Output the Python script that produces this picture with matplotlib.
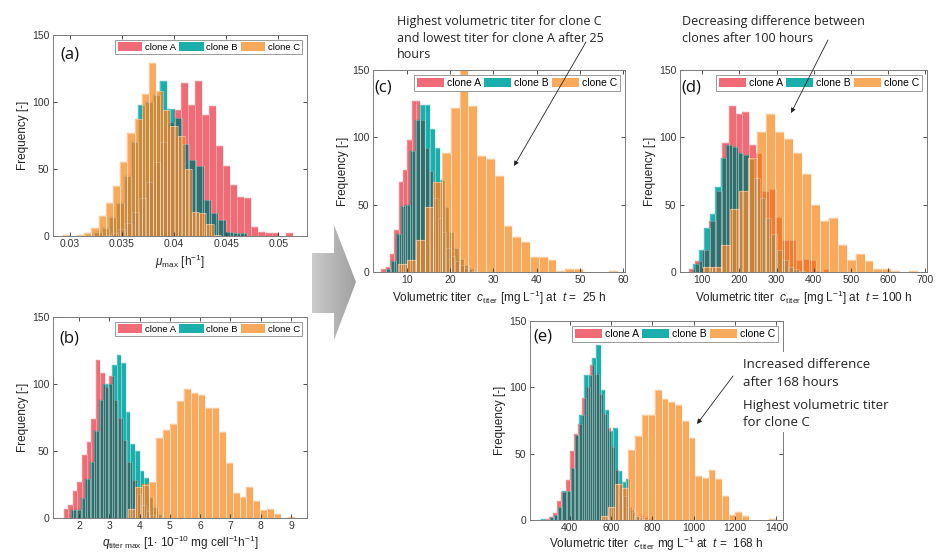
import numpy as np
import matplotlib.pyplot as plt
from matplotlib.patches import Patch, Polygon, Rectangle, FancyArrowPatch

plt.rcParams['font.family'] = 'Liberation Sans'
plt.rcParams['mathtext.fontset'] = 'custom'
plt.rcParams['mathtext.rm'] = 'Liberation Sans'
plt.rcParams['mathtext.it'] = 'Liberation Sans:italic'

clones = ['clone A', 'clone B', 'clone C']

# (a) mu_max: first bin edge, bin width and counts for clone A, B, C
mu_start = [0.0333, 0.03164, 0.0293]
mu_width = [0.00067, 0.0007, 0.00069]
mu_A = [1, 2, 5, 10, 18, 28, 40, 55, 70, 85, 94, 114, 98, 116, 90, 97, 67, 52, 38, 29, 28, 7, 3, 2, 2, 0, 2]
mu_B = [1, 3, 6, 14, 25, 45, 70, 98, 100, 105, 116, 95, 88, 69, 57, 52, 27, 17, 12, 3, 2, 2]
mu_C = [1, 0, 1, 2, 6, 15, 25, 37, 55, 77, 87, 106, 129, 108, 94, 82, 75, 50, 18, 17, 9, 1]

# (b) q_titer max
q_start = [1.5, 1.75, 3.62]
q_width = [0.15, 0.15, 0.23]
q_A = [7, 10, 20, 27, 47, 57, 74, 118, 108, 98, 106, 88, 75, 58, 42, 28, 18, 10, 5, 2]
q_B = [6, 6, 15, 29, 42, 65, 88, 100, 100, 114, 122, 116, 79, 55, 50, 35, 30, 16, 8, 3, 1]
q_C = [7, 23, 25, 27, 60, 66, 70, 87, 96, 93, 92, 82, 82, 64, 41, 19, 16, 23, 13, 6, 7, 3, 0, 1]

# (c) titer at t = 25 h
c25_start = [4.15, 5.19, 8.02]
c25_width = [1.0, 1.13, 2.03]
c25_A = [2, 4, 13, 31, 67, 76, 98, 127, 127, 113, 92, 75, 55, 40, 30, 18, 12, 8, 5, 3, 2, 1]
c25_B = [2, 8, 28, 49, 50, 90, 113, 124, 124, 106, 92, 68, 48, 30, 18, 10, 5, 3, 1]
c25_C = [6, 9, 24, 48, 67, 88, 122, 150, 123, 86, 84, 71, 34, 26, 22, 11, 11, 9, 1, 2, 2, 0, 0, 0, 1]

# (d) titer at t = 100 h
c100_start = [63.7, 75.0, 102.7]
c100_width = [18.0, 15.0, 24.1]
c100_A = [2, 8, 16, 38, 60, 96, 123, 117, 119, 94, 88, 60, 62, 41, 24, 24, 9, 10, 9, 1, 2]
c100_B = [6, 16, 33, 43, 63, 85, 94, 93, 88, 87, 84, 70, 55, 40, 28, 16, 9, 4, 2, 1]
c100_C = [4, 4, 20, 47, 60, 85, 104, 117, 104, 99, 88, 73, 50, 38, 40, 20, 9, 13, 8, 2, 2, 1, 0, 1]

# (e) titer at t = 168 h
c168_start = [280.0, 262.5, 553.7]
c168_width = [20.0, 20.5, 32.4]
c168_A = [1, 2, 5, 14, 21, 30, 52, 65, 72, 92, 100, 117, 110, 95, 80, 69, 55, 38, 28, 18, 10, 6, 3, 4, 2, 1]
c168_B = [1, 0, 2, 4, 10, 22, 22, 39, 64, 79, 109, 109, 122, 132, 98, 83, 67, 69, 37, 29, 31, 8, 3, 2, 1]
c168_C = [3, 10, 27, 24, 53, 63, 79, 79, 98, 91, 89, 87, 75, 62, 33, 32, 38, 31, 18, 4, 6, 3, 0, 0, 0, 1]

mu_ticks = [0.03, 0.035, 0.04, 0.045, 0.05]
mu_ticklabels = ['0.03', '0.035', '0.04', '0.045', '0.05']
q_ticks = [2, 3, 4, 5, 6, 7, 8, 9]
c25_ticks = [10, 20, 30, 40, 50, 60]
c100_ticks = [100, 200, 300, 400, 500, 600, 700]
c168_ticks = [400, 600, 800, 1000, 1200, 1400]
freq_ticks = [0, 50, 100, 150]

W, H = 937, 554
fig = plt.figure(figsize=(W / 100, H / 100), dpi=100)


def box(x0, y0, x1, y1):
    return [x0 / W, 1 - y1 / H, (x1 - x0) / W, (y1 - y0) / H]


def fpt(x, y):
    return (x / W, 1 - y / H)


single = ['#ef6b75', '#1aafad', '#f8a95c']
mixed = {(0,): single[0], (1,): single[1], (2,): single[2],
         (0, 1): '#2f6f6e', (0, 2): '#f37b2d', (1, 2): '#cc893a', (0, 1, 2): '#c5823a'}
edge_alpha = [0.3, 0.35, 0.55]


def overlay_hist(ax, starts, widths, counts):
    hists = []
    for s, w, c in zip(starts, widths, counts):
        c = np.asarray(c, dtype=float)
        hists.append((s + w * np.arange(len(c) + 1), c))
    xs = np.unique(np.concatenate([e for e, _ in hists]))
    pieces = {}
    for x0, x1 in zip(xs[:-1], xs[1:]):
        xm = 0.5 * (x0 + x1)
        hs = []
        for e, c in hists:
            i = np.searchsorted(e, xm) - 1
            hs.append(c[i] if 0 <= i < len(c) else 0.0)
        levels = sorted(set([0.0] + hs))
        for lo, hi in zip(levels[:-1], levels[1:]):
            key = tuple(k for k in range(3) if hs[k] >= hi)
            pieces.setdefault(key, []).append((x0, x1 - x0, lo, hi - lo))
    for key, p in pieces.items():
        p = np.array(p)
        ax.bar(p[:, 0], p[:, 3], width=p[:, 1], bottom=p[:, 2], align='edge',
               color=mixed[key], edgecolor=mixed[key], linewidth=0.2)
    for k, (e, c) in enumerate(hists):
        m = c > 0
        ax.bar(e[:-1][m], c[m], width=np.diff(e)[m], align='edge', facecolor='none',
               edgecolor=(1, 1, 1, edge_alpha[k]), linewidth=0.5)


def setup(ax, xlim, xticks, xticklabels, xlabel, letter, lpos, legfs, xpad=2.5):
    ax.set_xlim(*xlim)
    ax.set_ylim(0, 150)
    ax.set_xticks(xticks)
    ax.set_xticklabels(xticklabels)
    ax.set_yticks(freq_ticks)
    ax.tick_params(direction='in', top=True, right=True, length=3, width=0.6,
                   labelsize=7.5, colors='#333333', pad=2.5)
    for sp in ax.spines.values():
        sp.set_color('#7a7a7a')
        sp.set_linewidth(0.7)
    ax.set_ylabel('Frequency [-]', fontsize=8.5, color='#222222', labelpad=2)
    ax.set_xlabel(xlabel, fontsize=8.5, color='#222222', labelpad=xpad)
    ax.text(lpos[0], lpos[1], letter, transform=ax.transAxes, fontsize=12,
            family='Open Sans', va='center', ha='left', color='#111111')
    handles = [Patch(facecolor=single[i], edgecolor='none', label=clones[i]) for i in range(3)]
    leg = ax.legend(handles=handles, ncol=3, loc='upper right', fontsize=legfs,
                    handlelength=2.6, handleheight=1.0, handletextpad=0.25,
                    columnspacing=0.35, borderpad=0.25, borderaxespad=0.5,
                    fancybox=False, edgecolor='#8a8a8a', framealpha=1)
    leg.get_frame().set_linewidth(0.6)


# (a)
ax = fig.add_axes(box(53, 35, 307, 236))
overlay_hist(ax, mu_start, mu_width, [mu_A, mu_B, mu_C])
setup(ax, (0.02837, 0.05276), mu_ticks, mu_ticklabels,
      r'$\mu_{\rm max}$ [h$^{-1}$]', '(a)', (0.03, 0.905), 6.8)

# (b)
ax = fig.add_axes(box(53, 317, 307, 518))
overlay_hist(ax, q_start, q_width, [q_A, q_B, q_C])
setup(ax, (1.142, 9.528), q_ticks, [str(t) for t in q_ticks],
      r'$q_{\rm titer\ max}$ [1$\cdot$ 10$^{-10}$ mg cell$^{-1}$h$^{-1}$]', '(b)', (0.025, 0.895), 6.8,
      xpad=1.5)

# (c)
ax = fig.add_axes(box(373, 70, 625, 272))
overlay_hist(ax, c25_start, c25_width, [c25_A, c25_B, c25_C])
setup(ax, (2.22, 60.4), c25_ticks, [str(t) for t in c25_ticks],
      r'Volumetric titer  $c_{\rm titer}$ [mg L$^{-1}$] at  $t$ =  25 h', '(c)', (0.005, 0.915), 7.5)

# (d)
ax = fig.add_axes(box(680, 70, 927, 272))
overlay_hist(ax, c100_start, c100_width, [c100_A, c100_B, c100_C])
setup(ax, (40, 704.6), c100_ticks, [str(t) for t in c100_ticks],
      r'Volumetric titer  $c_{\rm titer}$ [mg L$^{-1}$] at  $t$ = 100 h', '(d)', (0.005, 0.915), 7.5)

# (e)
ax = fig.add_axes(box(530, 321, 783, 520))
overlay_hist(ax, c168_start, c168_width, [c168_A, c168_B, c168_C])
setup(ax, (208, 1432), c168_ticks, [str(t) for t in c168_ticks],
      r'Volumetric titer  $c_{\rm titer}$ mg L$^{-1}$ at  $t$ =  168 h', '(e)', (0.015, 0.92), 7.5,
      xpad=1.0)

# big gray arrow between the columns, shaded light to dark
chevron = Polygon([fpt(312, 253), fpt(334, 253), fpt(334, 225), fpt(356, 282),
                   fpt(334, 340), fpt(334, 313), fpt(312, 313)],
                  closed=True, transform=fig.transFigure, facecolor='none', edgecolor='none')
fig.add_artist(chevron)
gax = fig.add_axes(box(310, 223, 358, 342))
gax.axis('off')
grad = np.linspace(0.80, 0.62, 64)[None, :] * np.ones((16, 1))
img = gax.imshow(grad, cmap='gray', vmin=0, vmax=1, aspect='auto',
                 extent=(0, 1, 0, 1))
img.set_clip_path(chevron)

# annotations
tkw = dict(family='Open Sans', color='#222222', ha='left', va='center')
fig.text(*fpt(397, 22), 'Highest volumetric titer for clone C', fontsize=9, **tkw)
fig.text(*fpt(397, 38), 'and lowest titer for clone A after 25', fontsize=9, **tkw)
fig.text(*fpt(397, 54), 'hours', fontsize=9, **tkw)
fig.text(*fpt(682, 22), 'Decreasing difference between', fontsize=9, **tkw)
fig.text(*fpt(682, 38), 'clones after 100 hours', fontsize=9, **tkw)

x0, y0 = fpt(738, 352)
x1, y1 = fpt(800, 432)
fig.add_artist(Rectangle((x0, y1), x1 - x0, y0 - y1, transform=fig.transFigure,
                         facecolor='white', edgecolor='none'))
fig.text(*fpt(743, 364), 'Increased difference', fontsize=9.5, **tkw)
fig.text(*fpt(743, 382), 'after 168 hours', fontsize=9.5, **tkw)
fig.text(*fpt(743, 405), 'Highest volumetric titer', fontsize=9.5, **tkw)
fig.text(*fpt(743, 422), 'for clone C', fontsize=9.5, **tkw)

for a, b in [((586, 42), (514, 166)), ((828, 40), (791, 113)), ((733, 376), (697, 424))]:
    fig.add_artist(FancyArrowPatch(fpt(*a), fpt(*b), transform=fig.transFigure,
                                   arrowstyle='-|>', mutation_scale=7, lw=0.6,
                                   color='#222222', shrinkA=0, shrinkB=0))

fig.savefig('out.png', dpi=100)
